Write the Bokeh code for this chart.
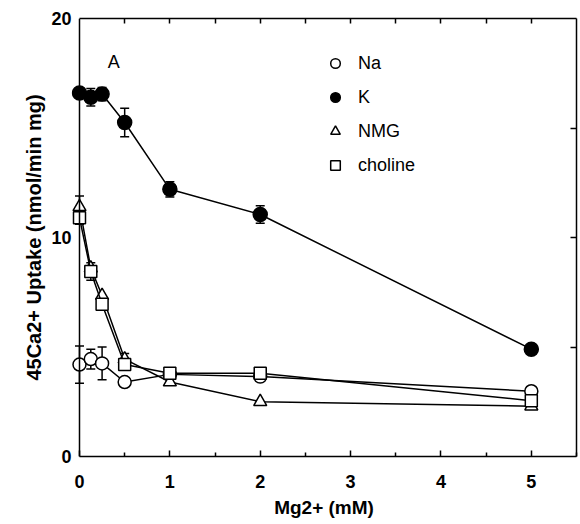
from bokeh.plotting import figure
from bokeh.models import (Range1d, FixedTicker, LinearAxis, Legend, LegendItem, Label,
                          ColumnDataSource, Whisker, TeeHead, Span)
from bokeh.embed import file_html
from bokeh.resources import INLINE

# ---- data ----
mg = [0, 0.125, 0.25, 0.5, 1, 2, 5]
na = [4.2, 4.45, 4.25, 3.4, 3.75, 3.65, 2.98]
na_err = [0.85, 0.45, 0.75, 0, 0, 0, 0]
k = [16.6, 16.4, 16.55, 15.25, 12.2, 11.05, 4.9]
k_err = [0, 0.4, 0.3, 0.65, 0.35, 0.4, 0]
nmg = [11.4, 8.6, 7.35, 4.45, 3.4, 2.5, 2.3]
nmg_err = [0.5, 0, 0, 0.25, 0, 0, 0]
choline = [10.9, 8.45, 6.95, 4.2, 3.8, 3.8, 2.55]
choline_err = [0.3, 0.4, 0, 0, 0, 0, 0]

x_ticks = [0, 1, 2, 3, 4, 5]
x_minor = [0.5, 1.5, 2.5, 3.5, 4.5, 5.5]
top_ticks = [0.5, 1, 1.5, 2, 2.5, 3, 3.5, 4, 4.5, 5]
y_ticks = [0, 10, 20]
right_ticks = [5, 10, 15]

FONT = "Liberation Sans"

p = figure(width=580, height=524, output_backend="svg", toolbar_location=None,
           x_range=Range1d(-0.0885, 5.5), y_range=Range1d(0, 20),
           min_border_left=71, min_border_right=4, min_border_top=18, min_border_bottom=68)
p.grid.visible = False
p.outline_line_color = None
p.background_fill_color = "white"
p.border_fill_color = "white"

# bottom axis
xa = p.xaxis[0]
xa.ticker = FixedTicker(ticks=x_ticks, minor_ticks=x_minor)
xa.bounds = (0, 5.5)
xa.axis_line_width = 1.5
xa.major_tick_in = 6
xa.major_tick_out = 0
xa.minor_tick_in = 4
xa.minor_tick_out = 0
xa.major_tick_line_width = 1.5
xa.minor_tick_line_width = 1.5
xa.major_label_text_font = FONT
xa.major_label_text_font_style = "bold"
xa.major_label_text_font_size = "18px"
xa.major_label_text_color = "black"
xa.major_label_standoff = 18
xa.axis_label = "Mg2+ (mM)"
xa.axis_label_text_font = FONT
xa.axis_label_text_font_style = "bold"
xa.axis_label_text_font_size = "19px"
xa.axis_label_text_color = "black"
xa.axis_label_standoff = 6

# left axis: labels only; the spine sits at Mg2+ = 0
ya = p.yaxis[0]
ya.ticker = FixedTicker(ticks=y_ticks, minor_ticks=[])
ya.axis_line_color = None
ya.major_tick_line_color = None
ya.minor_tick_line_color = None
ya.major_tick_in = 0
ya.major_tick_out = 0
ya.major_label_text_font = FONT
ya.major_label_text_font_style = "bold"
ya.major_label_text_font_size = "18px"
ya.major_label_text_color = "black"
ya.major_label_standoff = 0
ya.axis_label = "45Ca2+ Uptake (nmol/min mg)"
ya.axis_label_text_font = FONT
ya.axis_label_text_font_style = "bold"
ya.axis_label_text_font_size = "20px"
ya.axis_label_text_color = "black"
ya.axis_label_standoff = 3

p.add_layout(Span(location=0, dimension="height", line_color="black", line_width=1.5))

# top axis (frame edge with ticks)
top = LinearAxis(ticker=FixedTicker(ticks=top_ticks, minor_ticks=[]), bounds=(0, 5.5),
                 axis_line_width=1.5, major_tick_in=5, major_tick_out=0,
                 major_tick_line_width=1.5, minor_tick_line_color=None,
                 major_label_overrides={t: "" for t in top_ticks}, major_label_standoff=0)
p.add_layout(top, "above")

# right axis
right = LinearAxis(ticker=FixedTicker(ticks=right_ticks, minor_ticks=[]), bounds=(0, 20),
                   axis_line_width=1.5, major_tick_in=6, major_tick_out=0,
                   major_tick_line_width=1.5, minor_tick_line_color=None,
                   major_label_overrides={t: "" for t in right_ticks}, major_label_standoff=0)
p.add_layout(right, "right")


def add_series(y, err, marker, fill, size):
    p.line(mg, y, line_color="black", line_width=1.5)
    rows = [i for i, e in enumerate(err) if e > 0]
    if rows:
        src = ColumnDataSource(dict(
            base=[mg[i] for i in rows],
            upper=[y[i] + err[i] for i in rows],
            lower=[y[i] - err[i] for i in rows]))
        w = Whisker(source=src, base="base", upper="upper", lower="lower",
                    line_color="black", line_width=1.5,
                    upper_head=TeeHead(size=9, line_width=1.5, line_color="black"),
                    lower_head=TeeHead(size=9, line_width=1.5, line_color="black"))
        p.add_layout(w)
    return p.scatter(mg, y, marker=marker, size=size, fill_color=fill,
                     line_color="black", line_width=1.5)


r_na = add_series(na, na_err, "circle", "white", 13)
r_nmg = add_series(nmg, nmg_err, "triangle", "white", 13)
r_ch = add_series(choline, choline_err, "square", "white", 12)
r_k = add_series(k, k_err, "circle", "black", 14)

legend = Legend(items=[LegendItem(label="Na", renderers=[r_na]),
                       LegendItem(label="K", renderers=[r_k]),
                       LegendItem(label="NMG", renderers=[r_nmg]),
                       LegendItem(label="choline", renderers=[r_ch])],
                location=(252, 279), padding=0, margin=0, spacing=10,
                glyph_width=24, glyph_height=24, label_height=24, label_standoff=11,
                label_text_font=FONT, label_text_font_size="18px", label_text_color="black",
                border_line_color=None, background_fill_alpha=0)
p.add_layout(legend, "center")

p.add_layout(Label(x=0.38, y=18.0, text="A", text_font=FONT, text_font_size="18px",
                   text_align="center", text_baseline="middle", text_color="black"))

open("out.html", "w").write(file_html(p, INLINE))
